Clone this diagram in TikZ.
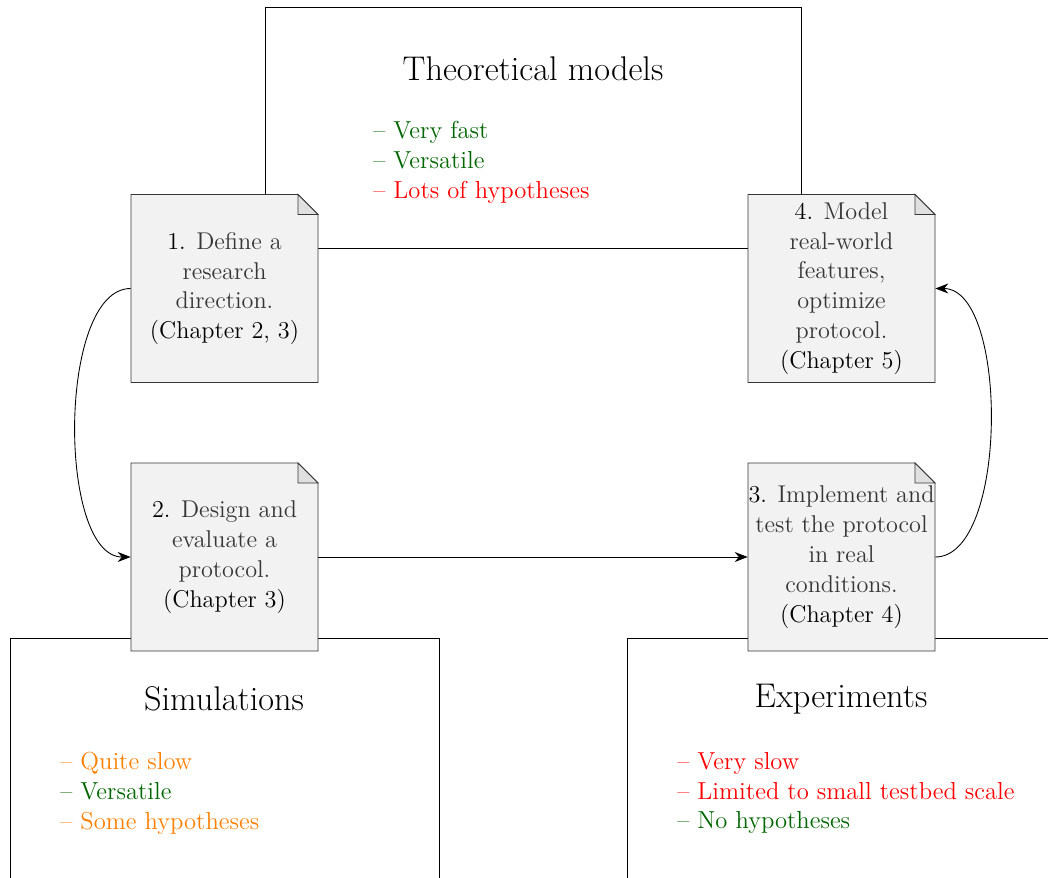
\documentclass[tikz,border=0pt]{standalone}
\usepackage{tikz}
\usetikzlibrary{arrows.meta}
\definecolor{good}{RGB}{0,102,0}
\definecolor{bad}{RGB}{255,0,0}
\definecolor{fair}{RGB}{255,128,0}
\definecolor{doc fill}{RGB}{242,242,242}
\definecolor{fold fill}{RGB}{224,224,224}
\definecolor{doc gray}{RGB}{54,54,54}
\tikzset{
  pics/docsheet/.style={code={
    \draw[doc line, fill=doc fill] (-93.5,94) -- (-93.5,-94) -- (73.5,-94) -- (93.5,-74) -- (93.5,94) -- cycle;
    \draw[doc line, fill=fold fill] (73.5,-94) -- (73.5,-74) -- (93.5,-74) -- cycle;
  }},
  doc line/.style={draw=doc gray, line width=0.55pt},
  area/.style={draw=black, line width=0.5pt},
  doctext/.style={align=center, text=doc gray, minimum width=3.74cm, minimum height=3.74cm,
    inner sep=0pt, font=\fontsize{13.8}{17}\selectfont},
  title/.style={font=\fontsize{19.5}{23}\selectfont},
  pros/.style={anchor=west, align=left, inner sep=0pt, font=\fontsize{14}{17}\selectfont},
  flow/.style={-{Stealth[length=2.6mm, width=2mm]}, line width=0.5pt}
}
\begin{document}
\begin{tikzpicture}[x=0.02cm, y=-0.02cm]
			\clip (0,0) rectangle (1048,878);
			\fill[white] (0,0) rectangle (1048,878);
			\draw[area] (265,7) rectangle (801,248);
			\draw[area] (10,638) rectangle (439,900);
			\draw[area] (627,638) rectangle (1070,900);
			\node[title] (theo) at (533,69){Theoretical models};
			\node[pros] (theo list) at (373,162){\textcolor{good}{-- Very fast}\\ \textcolor{good}{-- Versatile}\\ \textcolor{bad}{-- Lots of hypotheses}};
			\node[title] (simu) at (224,699){Simulations};
			\node[pros] (simu list) at (60,793){\textcolor{fair}{-- Quite slow}\\ \textcolor{good}{-- Versatile}\\ \textcolor{fair}{-- Some hypotheses}};
			\node[title] (expe) at (841,699){Experiments};
			\node[pros] (expe list) at (677,793){\textcolor{bad}{-- Very slow}\\ \textcolor{bad}{-- Limited to small testbed scale}\\ \textcolor{good}{-- No hypotheses}};
			\pic at (224.5,288.5) {docsheet};
			\pic at (841.5,288.5) {docsheet};
			\pic at (224.5,557) {docsheet};
			\pic at (841.5,557) {docsheet};
			\node[doctext] (step one) at (224.5,288.5){\textcolor{black}{1.} Define a\\ research\\ direction.\\ \textcolor{black}{(Chapter 2, 3)}};
			\node[doctext] (step four) at (841.5,288.5){\textcolor{black}{4.} Model\\ real-world\\ features,\\ optimize\\ protocol.\\ \textcolor{black}{(Chapter 5)}};
			\node[doctext] (step two) at (224.5,557){\textcolor{black}{2.} Design and\\ evaluate a\\ protocol.\\ \textcolor{black}{(Chapter 3)}};
			\node[doctext] (step three) at (841.5,557){\textcolor{black}{3.} Implement and\\ test the protocol\\ in real\\ conditions.\\ \textcolor{black}{(Chapter 4)}};
			\draw[flow] (step one.west) to[out=180, in=180, looseness=0.7] (step two.west);
			\draw[flow] (step two.east) -- (step three.west);
			\draw[flow] (step three.east) to[out=0, in=0, looseness=0.7] (step four.east);
		\end{tikzpicture}
\end{document}
